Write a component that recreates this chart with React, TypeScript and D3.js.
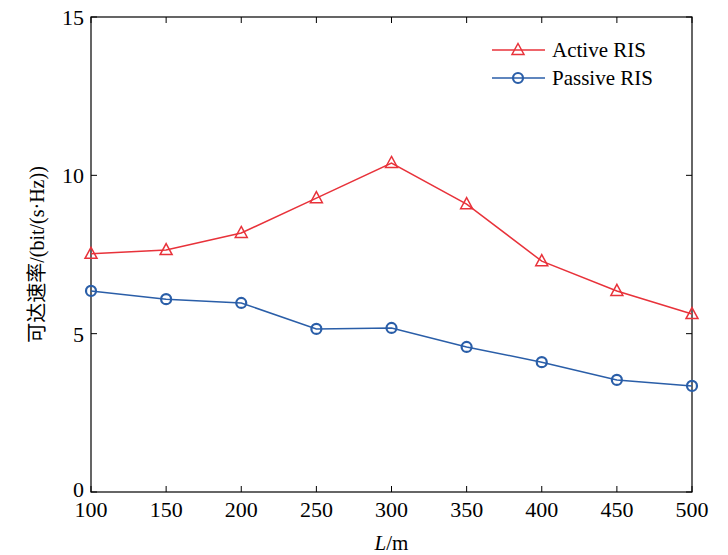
import * as d3 from 'd3'

const distances = [100, 150, 200, 250, 300, 350, 400, 450, 500]
const activeRate = [7.52, 7.64, 8.18, 9.28, 10.39, 9.09, 7.29, 6.35, 5.62]
const passiveRate = [6.35, 6.09, 5.97, 5.15, 5.18, 4.58, 4.10, 3.54, 3.35]
const xTicks = [100, 150, 200, 250, 300, 350, 400, 450, 500]
const yTicks = [0, 5, 10, 15]

const W = 728, H = 555
const m = { top: 17, right: 36, bottom: 63, left: 91 }
const font = '"Liberation Serif", "Times New Roman", "Noto Sans CJK SC", serif'

export default function App() {
  const x = d3.scaleLinear().domain([100, 500]).range([m.left, W - m.right])
  const y = d3.scaleLinear().domain([0, 15]).range([H - m.bottom, m.top])
  const line = d3.line<number>().x((_, i) => x(distances[i])).y(d => y(d))
  const red = '#e8323a', blue = '#2a5ea8'
  const tri = (cx: number, cy: number) => `M${cx},${cy - 6.5}L${cx + 6},${cy + 4.5}L${cx - 6},${cy + 4.5}Z`
  const [x0, x1] = x.range(), [y0, y1] = y.range()
  return (
    <svg width={W} height={H} style={{ position: 'absolute', left: 0, top: 0, background: '#fff' }} fontFamily={font}>
      <rect x={x0} y={y1} width={x1 - x0} height={y0 - y1} fill="none" stroke="#000" strokeWidth={1.2} />
      {xTicks.map(t => (
        <g key={t}>
          <line x1={x(t)} x2={x(t)} y1={y0} y2={y0 - 6} stroke="#000" />
          <line x1={x(t)} x2={x(t)} y1={y1} y2={y1 + 6} stroke="#000" />
          <text x={x(t)} y={y0 + 25} textAnchor="middle" fontSize={22}>{t}</text>
        </g>
      ))}
      {yTicks.map(t => (
        <g key={t}>
          <line x1={x0} x2={x0 + 6} y1={y(t)} y2={y(t)} stroke="#000" />
          <line x1={x1} x2={x1 - 6} y1={y(t)} y2={y(t)} stroke="#000" />
          <text x={x0 - 7} y={y(t) + (t === 0 ? 5 : 8)} textAnchor="end" fontSize={22}>{t}</text>
        </g>
      ))}
      <text x={(x0 + x1) / 2} y={H - 5} textAnchor="middle" fontSize={21}>
        <tspan fontStyle="italic">L</tspan>/m
      </text>
      <text transform={`translate(44,${(y0 + y1) / 2}) rotate(-90)`} textAnchor="middle" fontSize={20}>
        可达速率/(bit/(s·Hz))
      </text>
      <path d={line(activeRate) ?? ''} fill="none" stroke={red} strokeWidth={1.5} />
      {activeRate.map((v, i) => <path key={i} d={tri(x(distances[i]), y(v))} fill="none" stroke={red} strokeWidth={1.5} />)}
      <path d={line(passiveRate) ?? ''} fill="none" stroke={blue} strokeWidth={1.5} />
      {passiveRate.map((v, i) => <circle key={i} cx={x(distances[i])} cy={y(v)} r={5} fill="none" stroke={blue} strokeWidth={2.2} />)}
      <line x1={492} x2={545} y1={50} y2={50} stroke={red} strokeWidth={1.5} />
      <path d={tri(518, 50)} fill="none" stroke={red} strokeWidth={1.5} />
      <text x={552} y={57} fontSize={21}>Active RIS</text>
      <line x1={492} x2={545} y1={78} y2={78} stroke={blue} strokeWidth={1.5} />
      <circle cx={518} cy={78} r={5} fill="none" stroke={blue} strokeWidth={2.2} />
      <text x={552} y={85} fontSize={21}>Passive RIS</text>
    </svg>
  )
}
